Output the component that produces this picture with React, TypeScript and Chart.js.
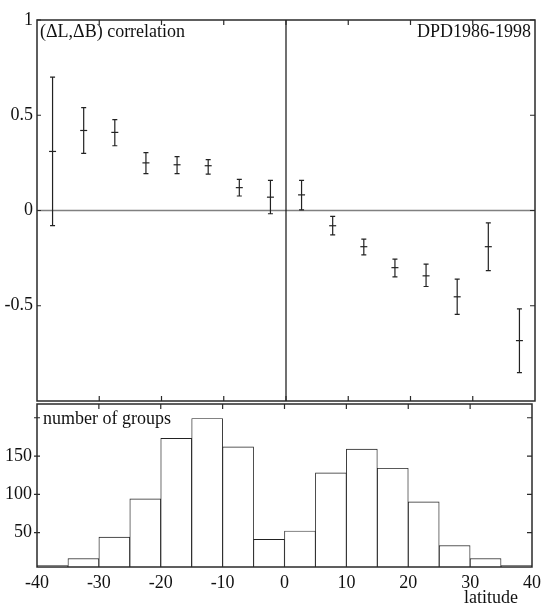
import React, { useEffect, useRef } from 'react';
import { Chart, registerables } from 'chart.js';

Chart.register(...registerables);

// Latitude bin centres (degrees)
const latCenters = [-37.5, -32.5, -27.5, -22.5, -17.5, -12.5, -7.5, -2.5, 2.5, 7.5, 12.5, 17.5, 22.5, 27.5, 32.5, 37.5];
// (dL,dB) correlation with error bounds
const corrValues = [0.31, 0.42, 0.41, 0.25, 0.24, 0.235, 0.12, 0.07, 0.082, -0.08, -0.19, -0.30, -0.343, -0.453, -0.19, -0.683];
const corrLow = [-0.079, 0.30, 0.34, 0.194, 0.194, 0.191, 0.076, -0.017, 0.003, -0.128, -0.233, -0.348, -0.399, -0.545, -0.316, -0.851];
const corrHigh = [0.70, 0.54, 0.477, 0.304, 0.283, 0.267, 0.163, 0.158, 0.158, -0.031, -0.15, -0.255, -0.281, -0.36, -0.065, -0.516];
// Number of groups per latitude bin
const groupCounts = [7, 16, 44, 94, 173, 199, 162, 41, 52, 128, 159, 134, 90, 33, 16, 7];
// Tick values
const latTicks = [-40, -30, -20, -10, 0, 10, 20, 30, 40];
const corrTicks = [1, 0.5, 0, -0.5];
const countTicks = [50, 100, 150, 200];
const countLabels = [50, 100, 150];

const FONT = { family: '"Liberation Serif", "DejaVu Serif", serif', size: 18 };
const INK = '#111';
const FRAME = '#2a2a2a';

function drawFrame(ctx: CanvasRenderingContext2D, a: any) {
  ctx.save();
  ctx.strokeStyle = FRAME;
  ctx.lineWidth = 1.5;
  ctx.strokeRect(a.left, a.top, a.right - a.left, a.bottom - a.top);
  ctx.restore();
}

const topPlugin = {
  id: 'topDecor',
  beforeDatasetsDraw(chart: any) {
    const { ctx, chartArea: a, scales } = chart;
    const x = scales.x, y = scales.y;
    ctx.save();
    // zero horizontal line
    ctx.strokeStyle = '#808080';
    ctx.lineWidth = 1.5;
    ctx.beginPath();
    ctx.moveTo(a.left, y.getPixelForValue(0));
    ctx.lineTo(a.right, y.getPixelForValue(0));
    ctx.stroke();
    // vertical line at equator
    ctx.strokeStyle = '#111';
    ctx.lineWidth = 1.2;
    ctx.beginPath();
    ctx.moveTo(x.getPixelForValue(0), a.top);
    ctx.lineTo(x.getPixelForValue(0), a.bottom);
    ctx.stroke();
    // error bars
    ctx.strokeStyle = '#222';
    ctx.lineWidth = 1.2;
    latCenters.forEach((lc, i) => {
      const px = x.getPixelForValue(lc);
      const yl = y.getPixelForValue(corrLow[i]);
      const yh = y.getPixelForValue(corrHigh[i]);
      ctx.beginPath();
      ctx.moveTo(px, yl);
      ctx.lineTo(px, yh);
      ctx.moveTo(px - 2.5, yl);
      ctx.lineTo(px + 2.5, yl);
      ctx.moveTo(px - 2.5, yh);
      ctx.lineTo(px + 2.5, yh);
      ctx.stroke();
    });
    ctx.restore();
  },
  afterDraw(chart: any) {
    const { ctx, chartArea: a, scales } = chart;
    const x = scales.x, y = scales.y;
    drawFrame(ctx, a);
    ctx.save();
    ctx.strokeStyle = FRAME;
    ctx.lineWidth = 1.2;
    ctx.beginPath();
    latTicks.forEach((t) => {
      if (t === -40 || t === 40) return;
      const px = x.getPixelForValue(t);
      ctx.moveTo(px, a.top);
      ctx.lineTo(px, a.top + 5);
      ctx.moveTo(px, a.bottom);
      ctx.lineTo(px, a.bottom - 5);
    });
    corrTicks.forEach((t) => {
      const py = y.getPixelForValue(t);
      ctx.moveTo(a.left, py);
      ctx.lineTo(a.left + 4, py);
      ctx.moveTo(a.right, py);
      ctx.lineTo(a.right - 5, py);
    });
    ctx.stroke();
    ctx.fillStyle = INK;
    ctx.font = `${FONT.size}px ${FONT.family}`;
    ctx.textBaseline = 'alphabetic';
    ctx.textAlign = 'left';
    ctx.fillText('(\u0394L,\u0394B) correlation', a.left + 3, a.top + 17);
    ctx.textAlign = 'right';
    ctx.fillText('DPD1986-1998', a.right - 4, a.top + 17);
    ctx.restore();
  },
};

const bottomPlugin = {
  id: 'bottomDecor',
  afterDraw(chart: any) {
    const { ctx, chartArea: a, scales } = chart;
    const x = scales.x, y = scales.y;
    drawFrame(ctx, a);
    ctx.save();
    ctx.strokeStyle = FRAME;
    ctx.lineWidth = 1.2;
    ctx.beginPath();
    latTicks.forEach((t) => {
      if (t === -40 || t === 40) return;
      const px = x.getPixelForValue(t);
      ctx.moveTo(px, a.top);
      ctx.lineTo(px, a.top + 5);
    });
    countTicks.forEach((t) => {
      const py = y.getPixelForValue(t);
      ctx.moveTo(a.left - 3, py);
      ctx.lineTo(a.left + 3, py);
      ctx.moveTo(a.right, py);
      ctx.lineTo(a.right - 5, py);
    });
    ctx.stroke();
    ctx.fillStyle = INK;
    ctx.font = `${FONT.size}px ${FONT.family}`;
    ctx.textBaseline = 'alphabetic';
    ctx.textAlign = 'left';
    ctx.fillText('number of groups', a.left + 6, a.top + 20);
    ctx.textAlign = 'right';
    ctx.fillText('latitude', a.right - 14, 603);
    ctx.restore();
  },
};

export default function App() {
  const topRef = useRef<HTMLCanvasElement | null>(null);
  const botRef = useRef<HTMLCanvasElement | null>(null);

  useEffect(() => {
    const topChart = new Chart(topRef.current as HTMLCanvasElement, {
      type: 'scatter',
      data: {
        datasets: [
          {
            data: latCenters.map((lc, i) => ({ x: lc, y: corrValues[i] })),
            pointStyle: 'line',
            pointRadius: 3.5,
            borderColor: '#222',
            backgroundColor: '#222',
            borderWidth: 1.2,
            showLine: false,
          } as any,
        ],
      },
      options: {
        responsive: false,
        animation: false,
        events: [],
        layout: { padding: { left: 0, right: 11, top: 20, bottom: 206 } },
        plugins: { legend: { display: false }, tooltip: { enabled: false } },
        scales: {
          x: { type: 'linear', min: -40, max: 40, display: false },
          y: {
            type: 'linear',
            min: -1,
            max: 1,
            afterFit: (s: any) => { s.width = 37; },
            grid: { display: false, drawTicks: false },
            border: { display: false },
            ticks: {
              stepSize: 0.5,
              padding: 4,
              color: INK,
              font: FONT,
              callback: (v: any) => (corrTicks.includes(Number(v)) ? String(v) : ''),
            },
          },
        },
      } as any,
      plugins: [topPlugin],
    });

    const botChart = new Chart(botRef.current as HTMLCanvasElement, {
      type: 'bar',
      data: {
        datasets: [
          {
            data: latCenters.map((lc, i) => ({ x: lc, y: groupCounts[i] })),
            backgroundColor: '#ffffff',
            borderColor: '#222',
            borderWidth: 0.9,
            borderSkipped: 'start',
            barPercentage: 1,
            categoryPercentage: 1,
          } as any,
        ],
      },
      options: {
        responsive: false,
        animation: false,
        events: [],
        layout: { padding: { left: 0, right: 11, top: 404, bottom: 0 } },
        plugins: { legend: { display: false }, tooltip: { enabled: false } },
        scales: {
          x: {
            type: 'linear',
            min: -40,
            max: 40,
            offset: false,
            afterFit: (s: any) => { s.height = 40; },
            grid: { display: false, drawTicks: false, offset: false },
            border: { display: false },
            ticks: {
              stepSize: 10,
              padding: 5,
              color: INK,
              font: FONT,
              maxRotation: 0,
              autoSkip: false,
              callback: (v: any) => (latTicks.includes(Number(v)) ? String(v) : ''),
            },
          },
          y: {
            type: 'linear',
            min: 5,
            max: 218,
            afterFit: (s: any) => { s.width = 37; },
            grid: { display: false, drawTicks: false },
            border: { display: false },
            ticks: {
              stepSize: 50,
              padding: 5,
              color: INK,
              font: FONT,
              callback: (v: any) => (countLabels.includes(Number(v)) ? String(v) : ''),
            },
          },
        },
      } as any,
      plugins: [bottomPlugin],
    });

    return () => {
      topChart.destroy();
      botChart.destroy();
    };
  }, []);

  const cs: React.CSSProperties = { position: 'absolute', left: 0, top: 0, width: 546, height: 607 };
  return (
    <div style={{ position: 'absolute', left: 0, top: 0, width: 546, height: 607, background: '#fff' }}>
      <canvas ref={topRef} width={546} height={607} style={cs} />
      <canvas ref={botRef} width={546} height={607} style={cs} />
    </div>
  );
}
